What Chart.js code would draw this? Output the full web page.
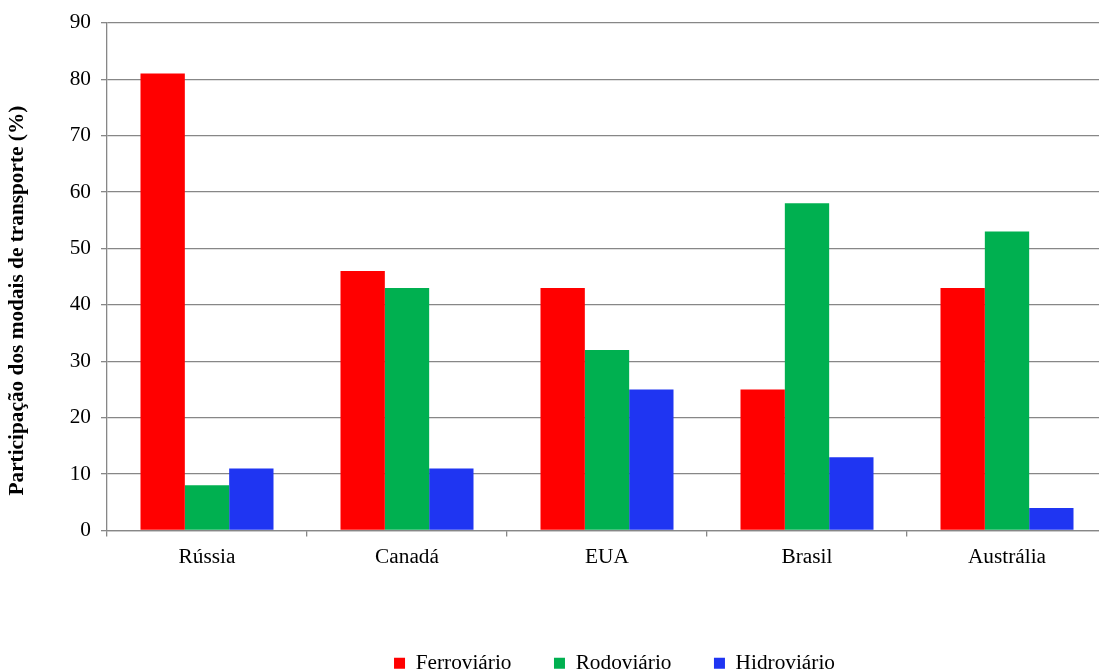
<!DOCTYPE html>
<html>
<head>
<meta charset="utf-8">
<script src="https://cdn.jsdelivr.net/npm/chart.js@4/dist/chart.umd.min.js"></script>
<style>
html,body{margin:0;padding:0;background:#fff;overflow:hidden;}
#wrap{width:1110px;height:684px;}
</style>
</head>
<body>
<div id="wrap"><canvas id="c" width="1110" height="684"></canvas></div>
<script>
const categories = ["Rússia", "Canadá", "EUA", "Brasil", "Austrália"];
const ferroviario = [81, 46, 43, 25, 43];
const rodoviario = [8, 43, 32, 58, 53];
const hidroviario = [11, 11, 25, 13, 4];
const seriesNames = ["Ferroviário", "Rodoviário", "Hidroviário"];
const yTitle = "Participação dos modais de transporte (%)";

const FONT = "'Liberation Serif', 'Times New Roman', serif";
const GRID = "#878787";

const legendShift = {
  id: 'legendShift',
  afterLayout(chart) {
    chart.legend.left += 61;
    chart.legend.right += 61;
  }
};

new Chart(document.getElementById('c'), {
  type: 'bar',
  data: {
    labels: categories,
    datasets: [
      {label: seriesNames[0], data: ferroviario, backgroundColor: '#FF0000'},
      {label: seriesNames[1], data: rodoviario, backgroundColor: '#00B050'},
      {label: seriesNames[2], data: hidroviario, backgroundColor: '#1F35F2'}
    ]
  },
  options: {
    responsive: false,
    animation: false,
    devicePixelRatio: 1,
    layout: {padding: {top: 20, right: 3, left: 0, bottom: 0}},
    datasets: {bar: {categoryPercentage: 0.665, barPercentage: 1.0, borderWidth: 0}},
    plugins: {
      tooltip: {enabled: false},
      legend: {
        position: 'bottom',
        labels: {
          font: {family: FONT, size: 21.3},
          color: '#000',
          boxWidth: 11,
          boxHeight: 11,
          padding: 42.5
        }
      }
    },
    scales: {
      x: {
        grid: {offset: true, drawOnChartArea: false, tickLength: 6, color: GRID, lineWidth: 1.3},
        border: {display: true, color: GRID, width: 1.3},
        ticks: {font: {family: FONT, size: 21.3}, color: '#000', padding: 8, maxRotation: 0},
        afterFit(scale) { scale.height = 79.7; }
      },
      y: {
        min: 0, max: 90,
        ticks: {stepSize: 10, font: {family: FONT, size: 21.3}, color: '#000', padding: 10},
        grid: {color: GRID, tickLength: 6, lineWidth: 1.3},
        border: {display: true, color: GRID, width: 1.3},
        title: {
          display: true,
          text: yTitle + "         ",
          font: {family: FONT, size: 21.3, weight: 'bold'},
          color: '#000',
          padding: {top: 5, bottom: 0}
        },
        afterFit(scale) { scale.width = 107; }
      }
    }
  },
  plugins: [legendShift]
});
</script>
</body>
</html>
